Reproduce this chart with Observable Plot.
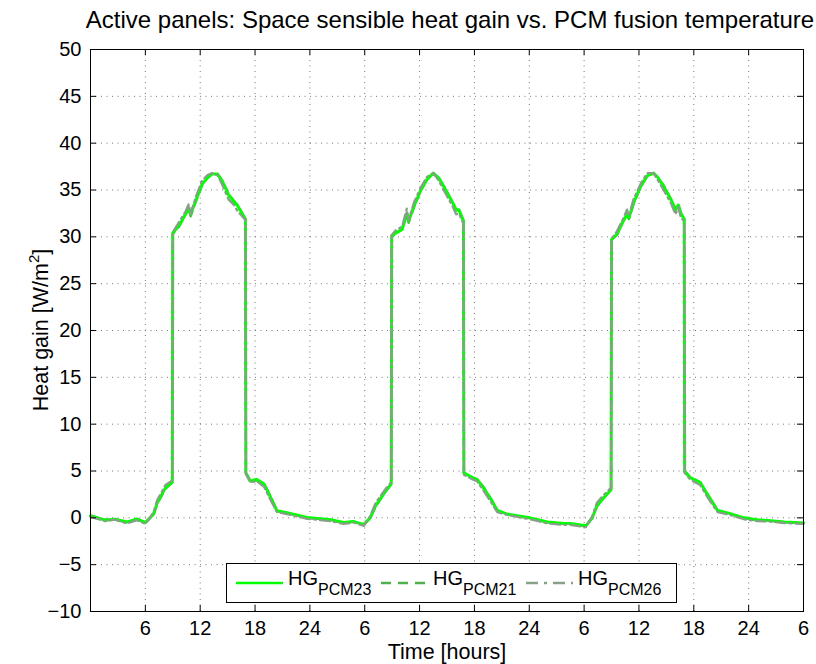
<!DOCTYPE html>
<html><head><meta charset="utf-8">
<script src="https://cdn.jsdelivr.net/npm/d3@7"></script>
<script src="https://cdn.jsdelivr.net/npm/@observablehq/plot@0.6"></script>
<style>body{margin:0;background:#fff} svg{display:block}</style>
</head><body><div id="chart"></div>
<script>
const chartTitle = "Active panels: Space sensible heat gain vs. PCM fusion temperature";
const xLabel = "Time [hours]";
const yLabel = "Heat gain [W/m";
const yLabelSup = "2";
const yLabelEnd = "]";

const hours = [0, 1.6, 2.7, 4.0, 5.1, 6.0, 6.9, 7.3, 8.2, 8.95, 9.0, 9.7, 10.4, 10.75, 10.95, 11.5, 12.2, 12.8, 13.3, 13.9, 14.4, 15.1, 15.7, 16.05, 16.4, 16.95, 17.0, 17.5, 18.2, 19.0, 19.7, 20.4, 21.5, 23.7, 26.3, 27.7, 28.8, 29.9, 30.6, 31.2, 31.7, 32.3, 32.9, 32.95, 33.4, 34.1, 34.6, 34.8, 35.4, 36.1, 36.8, 37.5, 38.1, 38.8, 39.6, 40.0, 40.3, 40.8, 40.85, 41.8, 42.3, 43.0, 43.8, 44.5, 45.6, 48.1, 50.0, 51.8, 52.5, 54.2, 54.9, 55.4, 56.2, 56.95, 57.0, 57.6, 58.3, 58.7, 58.9, 59.4, 60.2, 60.9, 61.6, 62.1, 62.7, 63.5, 64.0, 64.3, 64.6, 64.95, 65.0, 65.6, 66.7, 67.5, 68.6, 70.0, 71.5, 72.9, 74.4, 75.9, 78];

const hgPCM23 = [0.2, -0.25, -0.15, -0.45, -0.15, -0.5, 0.4, 1.6, 3.2, 3.8, 30.4, 31.2, 32.4, 33.0, 32.4, 33.8, 35.6, 36.3, 36.7, 36.7, 36.0, 34.5, 33.8, 33.4, 32.8, 31.9, 4.8, 3.9, 4.1, 3.6, 2.2, 0.75, 0.55, 0.03, -0.2, -0.5, -0.4, -0.7, 0.0, 1.3, 2.0, 2.9, 3.6, 30.1, 30.4, 30.8, 32.4, 31.7, 33.3, 34.9, 36.1, 36.8, 36.3, 35.1, 33.7, 32.9, 32.9, 31.7, 4.8, 4.3, 4.1, 3.2, 2.0, 0.8, 0.4, 0.0, -0.45, -0.6, -0.6, -0.85, 0.0, 1.3, 2.2, 3.0, 29.7, 30.3, 31.7, 32.4, 32.0, 33.6, 35.4, 36.5, 36.8, 36.3, 35.4, 34.0, 32.9, 33.4, 32.5, 31.9, 5.0, 4.3, 3.8, 2.5, 0.8, 0.45, 0.0, -0.2, -0.3, -0.45, -0.55];

const hgPCM21 = [0.25, -0.2, -0.2, -0.5, -0.1, -0.55, 0.35, 1.5, 3.1, 3.8, 30.3, 31.1, 32.5, 33.1, 32.2, 33.7, 35.5, 36.3, 36.8, 36.6, 36.0, 34.6, 33.7, 33.3, 32.9, 31.8, 4.7, 3.9, 4.0, 3.6, 2.3, 0.7, 0.5, 0.0, -0.25, -0.55, -0.4, -0.75, 0.0, 1.2, 2.0, 2.8, 3.6, 30.0, 30.3, 30.9, 32.6, 31.5, 33.2, 34.9, 36.2, 36.8, 36.2, 35.2, 33.6, 32.8, 32.9, 31.7, 4.8, 4.2, 4.1, 3.3, 2.0, 0.8, 0.35, -0.05, -0.5, -0.65, -0.65, -0.9, 0.0, 1.2, 2.2, 3.0, 29.7, 30.2, 31.8, 32.5, 31.9, 33.5, 35.4, 36.5, 36.8, 36.2, 35.5, 34.0, 32.8, 33.5, 32.4, 31.9, 4.9, 4.3, 3.8, 2.4, 0.8, 0.4, -0.05, -0.25, -0.3, -0.5, -0.55];

const hgPCM26 = [0.1, -0.35, -0.2, -0.6, -0.25, -0.65, 0.6, 1.9, 3.5, 4.0, 30.5, 31.6, 32.7, 33.5, 32.4, 34.2, 36.0, 36.6, 36.8, 36.6, 35.6, 34.0, 33.4, 32.8, 32.4, 31.8, 4.7, 3.8, 3.9, 3.3, 1.9, 0.6, 0.4, -0.1, -0.35, -0.65, -0.5, -0.85, 0.2, 1.6, 2.3, 3.1, 3.8, 30.2, 30.7, 31.1, 33.0, 31.8, 33.7, 35.2, 36.4, 36.8, 36.0, 34.7, 33.3, 32.4, 32.5, 31.4, 4.6, 4.1, 3.9, 2.9, 1.7, 0.6, 0.3, -0.15, -0.6, -0.75, -0.75, -1.0, 0.2, 1.6, 2.5, 3.2, 29.8, 30.6, 32.0, 32.9, 32.2, 34.0, 35.7, 36.8, 36.8, 36.0, 35.0, 33.6, 32.4, 33.2, 32.0, 31.7, 4.8, 4.1, 3.5, 2.2, 0.6, 0.3, -0.15, -0.35, -0.4, -0.55, -0.65];

const seriesNames = ["PCM23", "PCM21", "PCM26"];
const seriesValues = [hgPCM23, hgPCM21, hgPCM26];
const seriesColors = ["#00ff00", "#4fb04f", "#889f88"];
const seriesDash = [null, "8,6", "10,4,2,4"];
const seriesWidth = [3.0, 2.4, 2.3];
const drawOrder = [1, 0, 2];

const xTicks = [6, 12, 18, 24, 30, 36, 42, 48, 54, 60, 66, 72, 78];
const xTickLabels = ["6", "12", "18", "24", "6", "12", "18", "24", "6", "12", "18", "24", "6"];
const yTicks = [-10, -5, 0, 5, 10, 15, 20, 25, 30, 35, 40, 45, 50];

const W = 816, H = 664, mL = 90, mR = 13, mT = 49, mB = 53;
const innerH = H - mT - mB, innerW = W - mL - mR;
const font = "'Liberation Sans', Arial, Helvetica, sans-serif";

const rows = [];
seriesNames.forEach((s, k) => hours.forEach((h, i) => rows.push({series: s, h, v: seriesValues[k][i]})));

const lineMarks = drawOrder.map(k =>
  Plot.line(rows.filter(d => d.series === seriesNames[k]), {
    x: "h", y: "v", stroke: seriesColors[k], strokeWidth: seriesWidth[k],
    strokeDasharray: seriesDash[k] || undefined, strokeLinejoin: "round"
  })
);

const chart = Plot.plot({
  width: W, height: H,
  marginLeft: mL, marginRight: mR, marginTop: mT, marginBottom: mB,
  style: {fontFamily: font, fontSize: "20px", background: "white", color: "#000", overflow: "visible"},
  x: {domain: [0, 78]},
  y: {domain: [-10, 50]},
  marks: [
    Plot.gridX({ticks: xTicks, stroke: "#777", strokeOpacity: 1, strokeDasharray: "1,4.5"}),
    Plot.gridY({ticks: yTicks, stroke: "#777", strokeOpacity: 1, strokeDasharray: "1,4.5"}),
    ...lineMarks,
    Plot.ruleX(xTicks, {x: d => d, insetTop: innerH - 6, stroke: "#000"}),
    Plot.ruleX(xTicks, {x: d => d, insetBottom: innerH - 6, stroke: "#000"}),
    Plot.ruleY(yTicks, {y: d => d, insetRight: innerW - 6, stroke: "#000"}),
    Plot.ruleY(yTicks, {y: d => d, insetLeft: innerW - 6, stroke: "#000"}),
    Plot.frame({stroke: "#000"}),
    Plot.axisX({ticks: xTicks, tickSize: 0, tickPadding: 9, label: null, fontSize: 20,
      tickFormat: d => xTickLabels[xTicks.indexOf(d)]}),
    Plot.axisY({ticks: yTicks, tickSize: 0, tickPadding: 9, label: null, fontSize: 20})
  ]
});

document.getElementById("chart").appendChild(chart);
const svg = d3.select(chart);

svg.append("text").attr("x", 450).attr("y", 28).attr("text-anchor", "middle")
  .attr("font-family", font).attr("font-size", 24).attr("fill", "#000").text(chartTitle);

svg.append("text").attr("x", 447).attr("y", 659).attr("text-anchor", "middle")
  .attr("font-family", font).attr("font-size", 21.5).attr("fill", "#000").text(xLabel);

const yl = svg.append("text").attr("transform", "translate(48,330) rotate(-90)").attr("text-anchor", "middle")
  .attr("font-family", font).attr("font-size", 21.5).attr("fill", "#000");
yl.append("tspan").text(yLabel);
yl.append("tspan").attr("font-size", 15).attr("dy", -9).text(yLabelSup);
yl.append("tspan").attr("dy", 9).text(yLabelEnd);

// legend
const lg = svg.append("g");
lg.append("rect").attr("x", 226.5).attr("y", 563.5).attr("width", 450).attr("height", 39)
  .attr("fill", "white").attr("stroke", "#000");
const legendX = [236, 381, 526];
seriesNames.forEach((s, k) => {
  const x0 = legendX[k];
  lg.append("line").attr("x1", x0).attr("x2", x0 + 47).attr("y1", 583).attr("y2", 583)
    .attr("stroke", seriesColors[k]).attr("stroke-width", 2.6)
    .attr("stroke-dasharray", k === 1 ? "10,7" : k === 2 ? "12,6,3,6" : null);
  const t = lg.append("text").attr("x", x0 + 52).attr("y", 585).attr("text-anchor", "start")
    .attr("font-family", font).attr("font-size", 20).attr("fill", "#000");
  t.append("tspan").text("HG");
  t.append("tspan").attr("font-size", 16).attr("dy", 10).text(s);
});
</script>
</body></html>
